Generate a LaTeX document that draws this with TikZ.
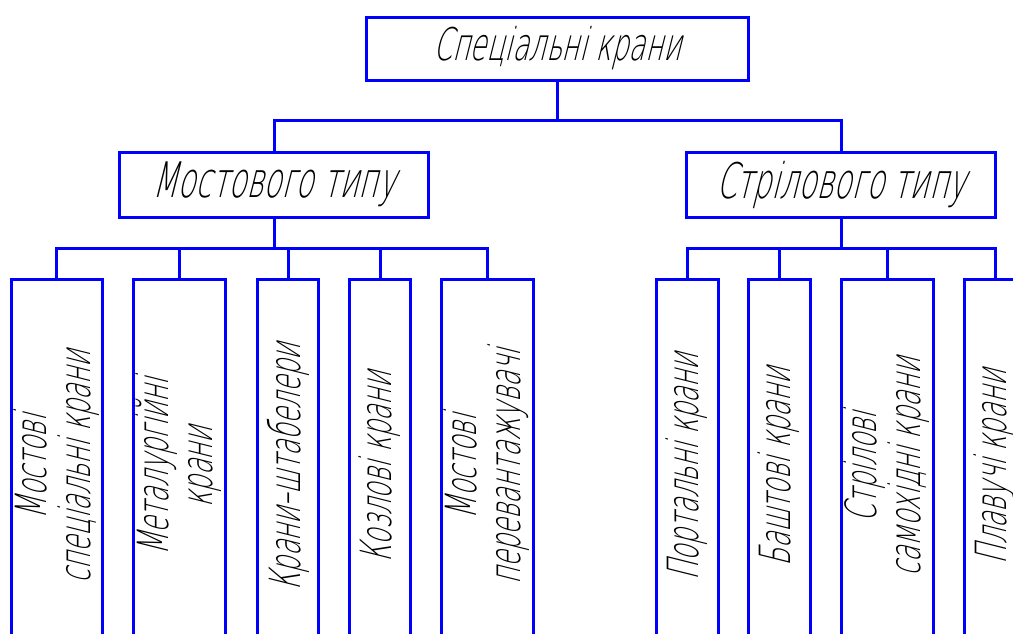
\documentclass[tikz,border=0pt]{standalone}
\usepackage{fontspec}
\setmainfont{DejaVu Sans ExtraLight}[FakeSlant=0.25,FakeStretch=0.6]
\usetikzlibrary{positioning}

\begin{document}
\begin{tikzpicture}[x=1pt,y=-1pt,line width=3pt,
    box/.style={draw=blue,inner sep=0pt,font=\fontsize{43}{44}\selectfont},
    top node/.style={box,minimum width=382pt,minimum height=63pt,font=\fontsize{45}{50}\selectfont},
    type node/.style={box,minimum width=309pt,minimum height=65pt,font=\fontsize{49}{50}\selectfont},
    kind node/.style={box,rotate=90,align=center,minimum width=376pt}]
  \useasboundingbox (0,0) rectangle (1013,633);
  \clip (0,0) rectangle (1013,633);
  \node[top node] (top) at (557,48.5) {Спеціальні крани};
  \node[type node] (m1) at (274,184.5) {Мостового типу};
  \node[type node] (m2) at (841,184.5) {Стрілового типу};
  % bridge type
  \node[kind node,minimum height=91pt] (b1) at (56.5,467) {Мостові\\спеціальні крани};
  \node[kind node,minimum height=92pt] (b2) at (179,467) {Металургійні\\крани};
  \node[kind node,minimum height=61pt] (b3) at (288,467) {Крани–штабелери};
  \node[kind node,minimum height=61pt] (b4) at (380,467) {Козлові крани};
  \node[kind node,minimum height=92pt] (b5) at (487,467) {Мостові\\перевантажувачі};
  % boom type
  \node[kind node,minimum height=62pt] (s1) at (687,467) {Портальні крани};
  \node[kind node,minimum height=62pt] (s2) at (779,467) {Баштові крани};
  \node[kind node,minimum height=92pt] (s3) at (887,467) {Стрілові\\самохідні крани};
  \node[kind node,minimum height=62pt] (s4) at (995,467) {Плавучі крани};
  \coordinate (bus0) at (557,120);
  \coordinate (bus1) at (274,248);
  \coordinate (bus2) at (841,248);
  \draw[blue] (top.south) -- (bus0);
  \draw[blue] (bus0) -| (m1.north);
  \draw[blue] (bus0) -| (m2.north);
  \draw[blue] (m1.south) -- (bus1);
  \draw[blue] (m2.south) -- (bus2);
  \foreach \b in {b1,b2,b3,b4,b5}
    \draw[blue] (bus1) -| (\b.east);
  \foreach \s in {s1,s2,s3,s4}
    \draw[blue] (bus2) -| (\s.east);
\end{tikzpicture}
\end{document}
